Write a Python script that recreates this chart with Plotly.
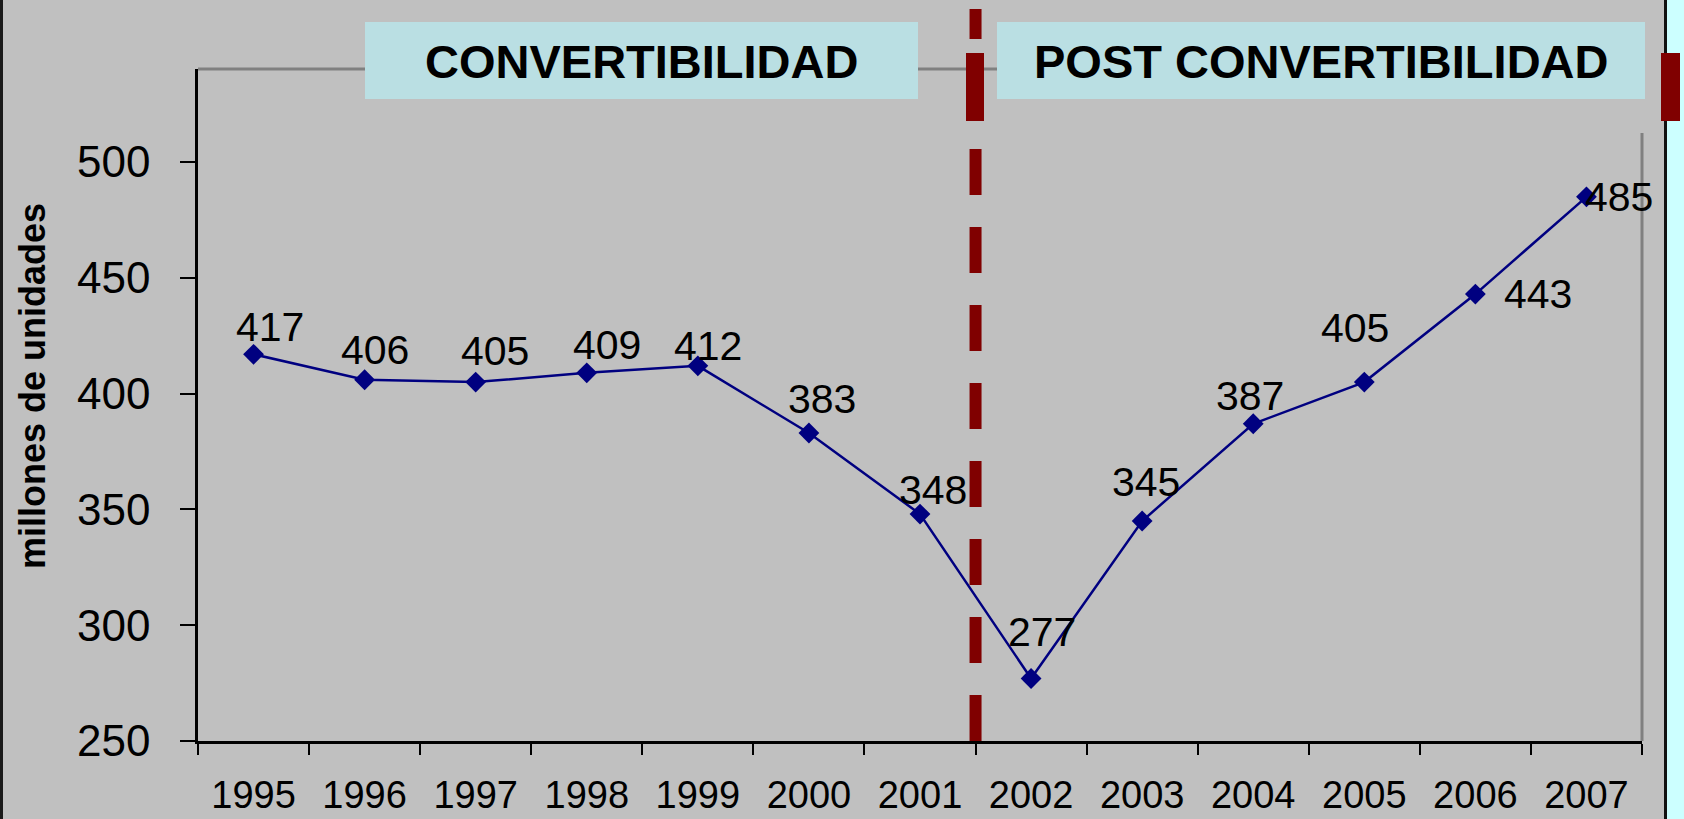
import plotly.graph_objects as go

# ---- data ----
years = ["1995", "1996", "1997", "1998", "1999", "2000", "2001",
         "2002", "2003", "2004", "2005", "2006", "2007"]
values = [417, 406, 405, 409, 412, 383, 348, 277, 345, 387, 405, 443, 485]
y_ticks = [250, 300, 350, 400, 450, 500]
period_labels = ["CONVERTIBILIDAD", "POST CONVERTIBILIDAD"]
y_title = "millones de unidades"

# ---- label offsets (style, px) ----
label_dx = [16, 10, 19, 20, 10, 13, 13, 11, 4, -3, -9, 63, 33]
label_dy = [27, 30, 31, 28, 20, 34, 24, 46, 39, 28, 54, 0, 0]

W, H = 1684, 819
L, R, T, B = 198, 42, 69, 78
PW, PH = W - L - R, H - T - B
FONT = "Liberation Sans, Arial, sans-serif"
BG = "#C0C0C0"
NAVY = "#000080"
DARKRED = "#800000"
BOXC = "#BADFE3"


def px_x(p):
    return (p - L) / PW


def px_y(p):
    return (H - B - p) / PH


fig = go.Figure()
fig.add_trace(go.Scatter(
    x=years, y=values, mode="lines+markers",
    line=dict(color=NAVY, width=2.5),
    marker=dict(symbol="diamond", size=16, color=NAVY),
    hoverinfo="x+y", showlegend=False,
))

shapes = []
# left dark border
shapes.append(dict(type="rect", xref="paper", yref="paper",
                   x0=px_x(0), x1=px_x(3), y0=px_y(H), y1=px_y(0),
                   fillcolor="#1a1a1a", line_width=0, layer="above"))
# right cyan strip + dark line
shapes.append(dict(type="rect", xref="paper", yref="paper",
                   x0=px_x(1667), x1=px_x(W), y0=px_y(H), y1=px_y(0),
                   fillcolor="#CCFFFF", line_width=0, layer="above"))
shapes.append(dict(type="rect", xref="paper", yref="paper",
                   x0=px_x(1664), x1=px_x(1667), y0=px_y(H), y1=px_y(0),
                   fillcolor="#111111", line_width=0, layer="above"))
# plot area top and right border (gray)
shapes.append(dict(type="line", xref="paper", yref="paper",
                   x0=0, x1=1, y0=1, y1=1,
                   line=dict(color="#808080", width=3), layer="below"))
shapes.append(dict(type="line", xref="paper", yref="paper",
                   x0=1, x1=1, y0=0, y1=px_y(133),
                   line=dict(color="#808080", width=3), layer="below"))
# period boxes
boxes = [(365, 918), (997, 1645)]
for (bx0, bx1) in boxes:
    shapes.append(dict(type="rect", xref="paper", yref="paper",
                       x0=px_x(bx0), x1=px_x(bx1), y0=px_y(99), y1=px_y(22),
                       fillcolor=BOXC, line_width=0, layer="above"))
# dashed divider between 2001 and 2002
shapes.append(dict(type="line", xref="x", yref="paper",
                   x0=6.5, x1=6.5, y0=0, y1=px_y(9),
                   line=dict(color=DARKRED, width=12, dash="46px,32px"),
                   layer="above"))
# wide red blocks
for (rx0, rx1) in [(966, 984), (1661, 1680)]:
    shapes.append(dict(type="rect", xref="paper", yref="paper",
                       x0=px_x(rx0), x1=px_x(rx1), y0=px_y(121), y1=px_y(53),
                       fillcolor=DARKRED, line_width=0, layer="above"))

annotations = []
for i, v in enumerate(values):
    annotations.append(dict(x=i, y=v, xref="x", yref="y", text=str(v),
                            showarrow=False, xanchor="center", yanchor="middle",
                            xshift=label_dx[i], yshift=label_dy[i],
                            font=dict(family=FONT, size=41, color="black")))
for (bx0, bx1), txt in zip(boxes, period_labels):
    annotations.append(dict(x=px_x((bx0 + bx1) / 2), y=px_y(61), xref="paper", yref="paper",
                            text="<b>%s</b>" % txt, showarrow=False,
                            xanchor="center", yanchor="middle",
                            font=dict(family=FONT, size=47, color="black")))
annotations.append(dict(x=px_x(32), y=px_y(386), xref="paper", yref="paper",
                        text="<b>%s</b>" % y_title, textangle=-90, showarrow=False,
                        xanchor="center", yanchor="middle",
                        font=dict(family=FONT, size=36, color="black")))

fig.update_layout(
    width=W, height=H,
    margin=dict(l=L, r=R, t=T, b=B, pad=0, autoexpand=False),
    paper_bgcolor=BG, plot_bgcolor=BG,
    font=dict(family=FONT, color="black"),
    shapes=shapes, annotations=annotations,
    showlegend=False,
    xaxis=dict(type="category", tickson="boundaries", range=[-0.5, 12.5],
               automargin=False,
               showline=True, linecolor="black", linewidth=2.5,
               ticks="outside", ticklen=11, tickwidth=2, tickcolor="black",
               showgrid=False, zeroline=False,
               tickfont=dict(family=FONT, size=38, color="black"),
               ticklabelstandoff=19),
    yaxis=dict(range=[250, 540.2], tickvals=y_ticks, automargin=False,
               showline=True, linecolor="black", linewidth=2.5,
               ticks="outside", ticklen=15, tickwidth=2, tickcolor="black",
               showgrid=False, zeroline=False,
               tickfont=dict(family=FONT, size=44, color="black"),
               ticklabelstandoff=21),
)

fig.write_html(
    "out.html",
    config={"displayModeBar": False},
    post_script="document.body.style.margin='0';document.body.style.overflow='hidden';"
                "document.body.style.background='%s';" % BG,
)
